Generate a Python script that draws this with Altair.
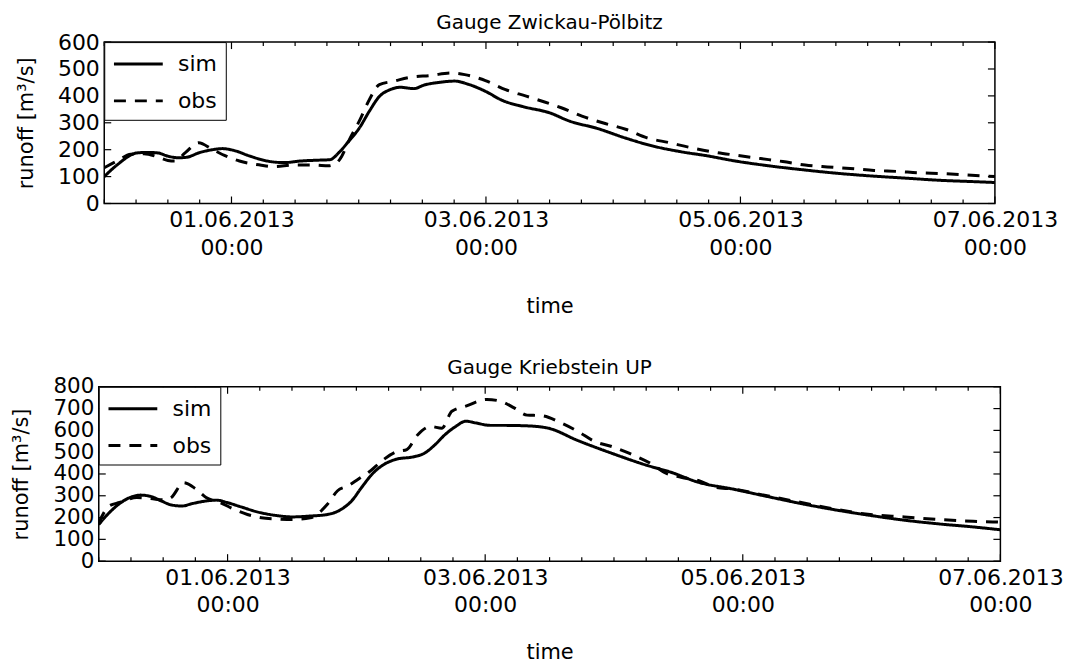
import altair as alt
import pandas as pd

FONT = "DejaVu Sans"
BASE = pd.Timestamp("2013-05-31 00:00")

# ---- Gauge Zwickau-Pölbitz (hours after 31.05.2013 00:00, runoff m3/s)
top_sim_hours = [0, 2.4, 6.2, 8.2, 10.1, 12, 14, 15.6, 17.8, 20.4,
                 22.3, 24.3, 27.5, 30.7, 33.9, 37.1, 40.3, 42.6, 44.2, 46.1,
                 48.1, 50, 51.9, 53.9, 55.8, 58.4, 60.3, 63.5, 66.1, 68.7,
                 71.9, 75.1, 79, 84, 87.8, 93, 98.2, 103.4, 108.6, 113.8,
                 119, 125.4, 131.9, 138.4, 144.9, 151.3, 157.8, 164.3, 168]
top_sim_runoff = [100, 143, 188, 190, 188, 176, 170, 172, 188, 200,
                  204, 198, 176, 158, 152, 158, 161, 163, 188, 231,
                  280, 343, 398, 423, 432, 427, 440, 451, 455, 443,
                  417, 383, 360, 337, 306, 279, 244, 214, 193, 177,
                  158, 140, 125, 112, 102, 94, 86, 81, 78]
top_obs_hours = [0, 2.4, 5, 7.5, 10.1, 12, 13.3, 15.3, 17.8, 20.4,
                 23, 25.5, 29.4, 32, 35.8, 39.7, 42.3, 43.9, 44.8, 46.1,
                 48.1, 50, 51.9, 54.5, 57.7, 61.6, 65.4, 68, 71.9, 75.7,
                 79.6, 86.2, 90.1, 94, 98.5, 102.4, 106.6, 110.8, 115, 119.3,
                 123.8, 128, 132.2, 136.4, 140.7, 145.2, 149.7, 153.6, 158.2, 162.7,
                 168]
top_obs_runoff = [133, 158, 183, 185, 173, 160, 158, 189, 226, 201,
                  176, 158, 143, 137, 143, 143, 140, 152, 176, 232,
                  306, 386, 442, 454, 469, 476, 485, 479, 457, 423,
                  399, 356, 325, 300, 275, 244, 226, 207, 191, 179,
                  167, 156, 143, 136, 130, 123, 119, 114, 111, 106,
                  100]

# ---- Gauge Kriebstein UP
bot_sim_hours = [0, 1.94, 3.87, 5.8, 7.74, 9.68, 11.6, 13.5, 15.5, 17.4,
                 20, 21.9, 23.9, 26.5, 29.7, 32.9, 36.1, 39.4, 42.6, 45.2,
                 47.1, 49, 51, 52.9, 55.5, 58.7, 60.6, 62.6, 64.5, 66.5,
                 68.4, 70.3, 72.9, 75.5, 79.6, 83.6, 89.3, 95.7, 102.1, 106.6,
                 111.7, 118.1, 124.5, 130.9, 137.3, 143.7, 150.1, 156.5, 162.9, 168]
bot_sim_runoff = [168, 222, 264, 292, 303, 297, 277, 258, 253, 264,
                  276, 280, 269, 249, 225, 210, 203, 207, 214, 238,
                  276, 339, 401, 440, 468, 479, 494, 533, 580, 618,
                  642, 634, 623, 623, 621, 611, 553, 494, 440, 408,
                  362, 331, 297, 264, 235, 210, 188, 171, 157, 144]
bot_obs_hours = [0, 1.94, 3.87, 7.1, 9.68, 12.3, 13.5, 15.8, 18.1, 20,
                 22.6, 25.2, 27.7, 30.3, 32.9, 36.1, 39.4, 42.6, 44.5, 46.5,
                 48.4, 50.3, 52.9, 55.5, 57.4, 59.4, 61.9, 63.9, 65.8, 68.4,
                 72.3, 74.8, 77.4, 79.8, 82.3, 86.2, 89.3, 92.5, 95.7, 98.9,
                 103.4, 105.3, 108.5, 111.7, 114.9, 118.1, 124.5, 130.9, 137.3, 143.7,
                 150.1, 156.5, 162.9, 168]
bot_obs_runoff = [176, 253, 269, 292, 287, 281, 292, 360, 331, 292,
                  269, 238, 214, 199, 194, 191, 199, 261, 323, 346,
                  377, 408, 463, 502, 512, 579, 618, 610, 688, 711,
                  742, 734, 703, 670, 668, 634, 595, 548, 525, 494,
                  440, 408, 385, 370, 339, 331, 300, 269, 238, 214,
                  203, 191, 183, 179]

series_names = ["sim", "obs"]
major_days = ["2013-06-01", "2013-06-03", "2013-06-05", "2013-06-07"]

X_START = alt.DateTime(year=2013, month=5, date=31)
X_END = alt.DateTime(year=2013, month=6, date=7)


def to_dt(s):
    t = pd.Timestamp(s)
    return alt.DateTime(year=t.year, month=t.month, date=t.day, hours=t.hour)


MAJOR = [pd.Timestamp(d) for d in major_days]
MINOR = [t for t in pd.date_range("2013-05-31 00:00", "2013-06-07 00:00", freq="6h") if t not in MAJOR]


def panel(title, sim_h, sim_q, obs_h, obs_q, ymax, w, h, x_title_pad, ylab_size):
    df = pd.DataFrame({
        "time": [BASE + pd.Timedelta(hours=v) for v in sim_h] + [BASE + pd.Timedelta(hours=v) for v in obs_h],
        "runoff": list(sim_q) + list(obs_q),
        "series": ["sim"] * len(sim_h) + ["obs"] * len(obs_h),
    })
    xs = alt.Scale(domain=[X_START, X_END])
    ys = alt.Scale(domain=[0, ymax], nice=False)
    yvals = list(range(0, ymax + 1, 100))

    xaxis = alt.Axis(
        values=[to_dt(d) for d in major_days],
        labelExpr="[timeFormat(datum.value, '%d.%m.%Y'), timeFormat(datum.value, '%H:%M')]",
        labelFlush=False, labelOverlap=False, labelPadding=6, labelLineHeight=28,
        title="time", titlePadding=x_title_pad)
    yaxis = alt.Axis(values=yvals, title="runoff [m³/s]", labelPadding=5, titlePadding=21,
                     labelOverlap=False, labelFlush=False, labelBound=False,
                     labelFontSize=ylab_size)

    lines = alt.Chart(df).mark_line(color="black", strokeWidth=3, interpolate="monotone", clip=True).encode(
        x=alt.X("time:T", scale=xs, axis=xaxis),
        y=alt.Y("runoff:Q", scale=ys, axis=yaxis),
        strokeDash=alt.StrokeDash("series:N", scale=alt.Scale(domain=series_names, range=[[1, 0], [12, 9]]),
                                  legend=alt.Legend(title=None, orient="top-left", offset=0,
                                                    fillColor="white", strokeColor="black",
                                                    padding=8, labelFontSize=22, labelFont=FONT,
                                                    labelColor="black",
                                                    symbolType="M-1,0H3", symbolStrokeWidth=3,
                                                    symbolSize=600, symbolStrokeColor="black",
                                                    labelOffset=38, rowPadding=12)),
    )

    tick_df_major = pd.DataFrame({"t": MAJOR})
    tick_df_minor = pd.DataFrame({"t": MINOR})
    ytick_df = pd.DataFrame({"v": yvals})

    def xticks(d, L, top):
        y0 = 0 if top else h
        y1 = L if top else h - L
        return alt.Chart(d).mark_rule(color="black", strokeWidth=1.2).encode(
            x=alt.X("t:T", scale=xs, axis=xaxis), y=alt.value(y0), y2=alt.value(y1))

    def yticks(right):
        x0 = w if right else 0
        x1 = w - 7 if right else 7
        return alt.Chart(ytick_df).mark_rule(color="black", strokeWidth=1.2).encode(
            y=alt.Y("v:Q", scale=ys, axis=yaxis), x=alt.value(x0), x2=alt.value(x1))

    layers = [lines,
              xticks(tick_df_major, 7, False), xticks(tick_df_major, 7, True),
              xticks(tick_df_minor, 4, False), xticks(tick_df_minor, 4, True),
              yticks(False), yticks(True)]
    return alt.layer(*layers).properties(
        width=w, height=h,
        title=alt.TitleParams(title, fontSize=20, font=FONT, fontWeight="normal", color="black", offset=-2),
    )


top = panel("Gauge Zwickau-Pölbitz", top_sim_hours, top_sim_runoff, top_obs_hours, top_obs_runoff,
            600, 894, 162, 37, 22)
bottom = panel("Gauge Kriebstein UP", bot_sim_hours, bot_sim_runoff, bot_obs_hours, bot_obs_runoff,
               800, 905, 175, 26, 21.5)

chart = alt.vconcat(top, bottom, spacing=40, center=True).resolve_scale(
    x="independent", y="independent", strokeDash="independent"
).resolve_legend(strokeDash="independent").properties(
    padding={"left": 10, "top": 11, "right": 5, "bottom": 2}
).configure_view(
    stroke="black", strokeWidth=1.5
).configure_axis(
    domain=False, ticks=False, grid=False,
    labelFont=FONT, labelFontSize=22, labelColor="black",
    titleFont=FONT, titleFontSize=21, titleFontWeight="normal", titleColor="black",
).configure_legend(
    labelFont=FONT
)

chart.save("out.html", embed_options={"renderer": "svg", "actions": False})
